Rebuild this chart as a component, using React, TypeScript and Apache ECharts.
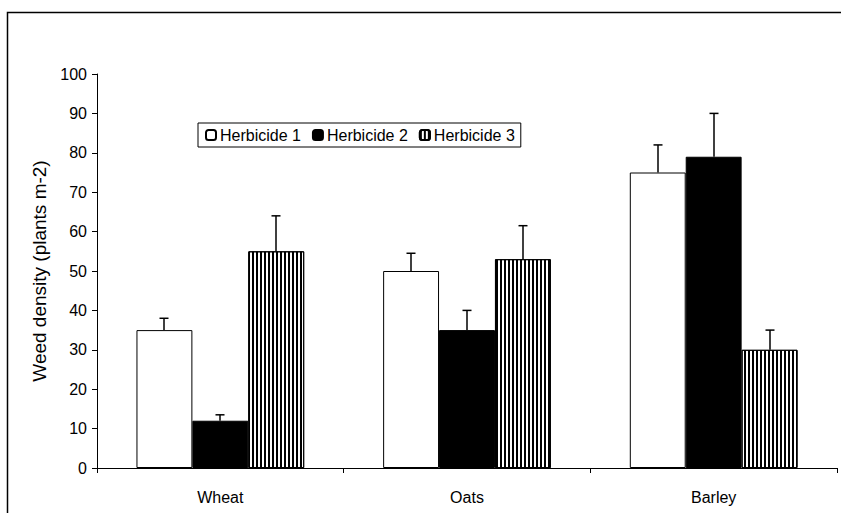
import React, { useEffect, useRef } from "react";
import * as echarts from "echarts";

const categories = ["Wheat", "Oats", "Barley"];
const seriesNames = ["Herbicide 1", "Herbicide 2", "Herbicide 3"];
const herbicide1 = [35, 50, 75];
const herbicide2 = [12, 35, 79];
const herbicide3 = [55, 53, 30];
const err1 = [3, 4.5, 7];
const err2 = [1.5, 5, 11];
const err3 = [9, 8.5, 5];
const yTicks = { min: 0, max: 100, interval: 10 };

const FONT = "'Liberation Sans', Arial, sans-serif";
const FS = 16;
const GAP = 0.32;

export default function App() {
  const ref = useRef<HTMLDivElement>(null);
  useEffect(() => {
    if (!ref.current) return;
    const chart = echarts.init(ref.current, undefined, { renderer: "svg" });
    const values = [herbicide1, herbicide2, herbicide3];
    const errs = [err1, err2, err3];
    const errData: number[][] = [];
    values.forEach((vals, s) => {
      vals.forEach((v, i) => errData.push([i, v, errs[s][i], s]));
    });
    const baseStyle = { borderColor: "#000", borderWidth: 1 };
    chart.setOption({
      animation: false,
      backgroundColor: "#fff",
      textStyle: { fontFamily: FONT, color: "#000" },
      grid: { left: 97, right: 4, top: 74, bottom: 45 },
      legend: {
        data: seriesNames,
        left: 198,
        top: 123,
        orient: "horizontal",
        itemWidth: 10,
        itemHeight: 10,
        itemGap: 11,
        padding: [4, 6, 4, 7],
        borderColor: "#000",
        borderWidth: 1,
        textStyle: { fontFamily: FONT, fontSize: FS, color: "#000", padding: [0, 0, 0, -1] },
      },
      xAxis: {
        type: "category",
        data: categories,
        axisLine: { lineStyle: { color: "#000", width: 1 } },
        axisTick: { show: true, length: 5, lineStyle: { color: "#000" } },
        axisLabel: { color: "#000", fontSize: FS, fontFamily: FONT, margin: 21 },
      },
      yAxis: {
        type: "value",
        min: yTicks.min,
        max: yTicks.max,
        interval: yTicks.interval,
        name: "Weed density (plants m-2)",
        nameLocation: "middle",
        nameGap: 47,
        nameTextStyle: { fontFamily: FONT, fontSize: 19, color: "#000" },
        axisLine: { show: true, lineStyle: { color: "#000", width: 1 } },
        axisTick: { show: true, length: 5, lineStyle: { color: "#000" } },
        splitLine: { show: false },
        axisLabel: { color: "#000", fontSize: FS, fontFamily: FONT, margin: 10 },
      },
      graphic: [
        {
          type: "rect",
          left: 5,
          top: 10,
          shape: { width: 1000, height: 1000 },
          style: { fill: "none", stroke: "#000", lineWidth: 1.5 },
          silent: true,
        },
      ],
      series: [
        {
          name: seriesNames[0],
          type: "bar",
          data: herbicide1,
          barGap: "0%",
          barCategoryGap: GAP * 100 + "%",
          itemStyle: { ...baseStyle, color: "#fff" },
        },
        {
          name: seriesNames[1],
          type: "bar",
          data: herbicide2,
          itemStyle: { ...baseStyle, color: "#000" },
        },
        {
          name: seriesNames[2],
          type: "bar",
          data: herbicide3,
          itemStyle: {
            ...baseStyle,
            color: "#fff",
            decal: {
              symbol: "rect",
              symbolSize: 1,
              dashArrayX: [2, 2],
              dashArrayY: [4, 0],
              rotation: 0,
              color: "#000",
            },
          },
        },
        {
          type: "custom",
          data: errData,
          z: 5,
          silent: true,
          renderItem: (params: any, api: any) => {
            const idx = api.value(0);
            const v = api.value(1);
            const e = api.value(2);
            const s = api.value(3);
            const base = api.coord([idx, v]);
            const top = api.coord([idx, v + e]);
            const band = api.size([1, 0])[0];
            const bw = (band * (1 - GAP)) / 3;
            const cx = Math.round(base[0] + (s - 1) * bw);
            const style = { stroke: "#000", lineWidth: 1.5 };
            return {
              type: "group",
              children: [
                { type: "line", shape: { x1: cx, y1: base[1], x2: cx, y2: top[1] }, style },
                { type: "line", shape: { x1: cx - 4.5, y1: top[1], x2: cx + 4.5, y2: top[1] }, style },
              ],
            };
          },
        },
      ],
    });
    return () => chart.dispose();
  }, []);
  return (
    <div
      ref={ref}
      style={{ position: "fixed", left: 0, top: 0, width: 841, height: 513 }}
    />
  );
}
